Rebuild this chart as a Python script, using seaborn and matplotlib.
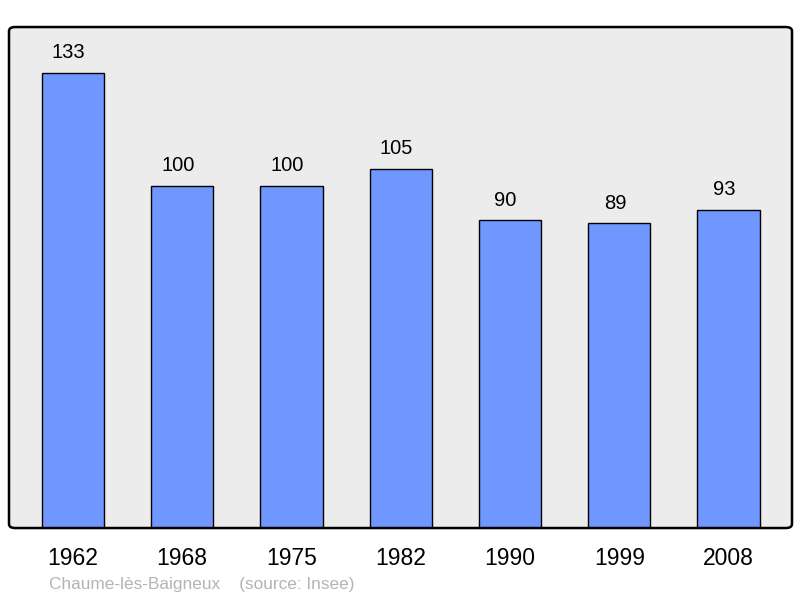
import matplotlib
matplotlib.use("Agg")
import matplotlib.pyplot as plt
from matplotlib.patches import FancyBboxPatch
import seaborn as sns
import pandas as pd

years = ["1962", "1968", "1975", "1982", "1990", "1999", "2008"]
population = [133, 100, 100, 105, 90, 89, 93]

sns.set_style("white")
plt.rcParams['font.family'] = ['Liberation Sans', 'DejaVu Sans']

df = pd.DataFrame({"year": years, "pop": population})

fig = plt.figure(figsize=(8, 5.98), dpi=100)
ax = fig.add_axes([0.01125, 0.117, 0.97875, 0.8378])
ax.set_facecolor("#ececec")

sns.barplot(data=df, x="year", y="pop", color="#7096ff", saturation=1,
            width=0.57, edgecolor="black", linewidth=1, ax=ax)

# value labels, nudged a bit left like the original
for i, v in enumerate(population):
    ax.annotate(str(v), (i, v), xytext=(-3.2, 7.5), textcoords="offset points",
                ha="center", va="bottom", fontsize=14.5, color="black")

ax.set_xlim(-0.585, 6.58)
ax.set_ylim(0, 146.4)
ax.set_yticks([])
ax.set_xlabel("")
ax.set_ylabel("")
ax.tick_params(axis="x", length=0, labelsize=16.5, pad=14, labelcolor="black")
for s in ax.spines.values():
    s.set_visible(False)

frame = FancyBboxPatch((0, 0), 1, 1, boxstyle="round,pad=0,rounding_size=0.008",
                       transform=ax.transAxes, facecolor="none",
                       edgecolor="black", linewidth=1.8, clip_on=False, zorder=5)
ax.add_patch(frame)

fig.text(49 / 800, 1 - 584 / 598, "Chaume-lès-Baigneux    (source: Insee)",
         color="#b4b4b4", fontsize=12.4, va="center", ha="left")

fig.savefig("out.png", dpi=100, facecolor="white")
